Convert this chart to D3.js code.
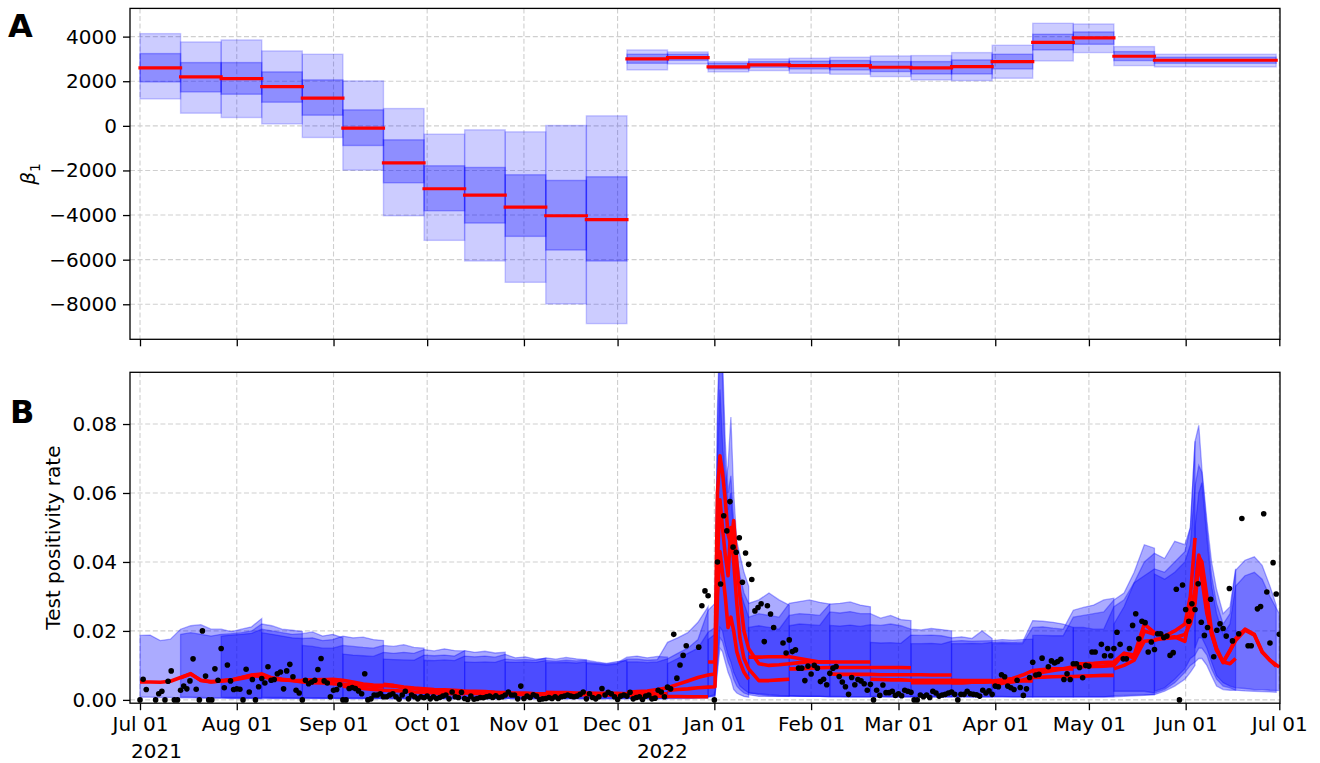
<!DOCTYPE html>
<html>
<head>
<meta charset="utf-8">
<script src="https://cdn.jsdelivr.net/npm/d3@7"></script>
<style>
  body { margin: 0; background: #fff; }
  svg text { font-family: "DejaVu Sans", sans-serif; }
</style>
</head>
<body>
<svg id="chart" width="1320" height="763"></svg>
<script>
// ---- data ----
var monthTicks = ["2021-07-01", "2021-08-01", "2021-09-01", "2021-10-01", "2021-11-01", "2021-12-01",
    "2022-01-01", "2022-02-01", "2022-03-01", "2022-04-01", "2022-05-01", "2022-06-01", "2022-07-01"];
var yearLabels = ["2021", "2022"];
var betaTicks = [-8000, -6000, -4000, -2000, 0, 2000, 4000];
var rateTicks = [0, 0.02, 0.04, 0.06, 0.08];

// panel A: beta_1 per 13-day block (days since 2021-07-01)
var betaDays = [0, 13, 26, 39, 52, 65, 78, 91, 104, 117, 130, 143, 156, 169, 182, 195, 208, 221, 234, 247, 260, 273, 286, 299, 312, 325, 364];
var betaMed  = [2597, 2194, 2119, 1761, 1239, -104, -1657, -2821, -3104, -3642, -4030, -4209, 3000, 3060, 2642, 2731, 2701, 2701, 2627, 2597, 2657, 2881, 3746, 3940, 3119, 2940];
var betaHi95 = [4134, 3761, 3851, 3358, 3209, 2015, 776, -373, -179, -269, 15, 448, 3403, 3313, 2881, 3000, 3030, 3075, 3134, 3149, 3284, 3612, 4597, 4567, 3552, 3209];
var betaHi50 = [3239, 2836, 2836, 2418, 2060, 716, -627, -1791, -1866, -2194, -2448, -2284, 3209, 3209, 2806, 2881, 2896, 2925, 2881, 2881, 2955, 3209, 4104, 4209, 3328, 3075];
var betaLo50 = [1970, 1522, 1418, 1060, 478, -881, -2552, -3806, -4358, -4955, -5567, -6060, 2806, 2940, 2552, 2627, 2552, 2507, 2433, 2328, 2328, 2552, 3403, 3657, 2925, 2806];
var betaLo95 = [1209, 567, 373, 90, -522, -1985, -4030, -5134, -6060, -7015, -7985, -8866, 2507, 2776, 2418, 2478, 2358, 2313, 2209, 2060, 2030, 2134, 2910, 3284, 2701, 2642];

// panel B: observed daily test positivity rate, day 0 = 2021-07-01
var positivity = [
  0, 0.006, 0.003, null, null, 0, 0.0018, 0.0025, 0, 0.0054, 0.0084, 0, 0, 0.0028, 0.004, 0.0032, 0.0055, 0.0119, 0.0031, 0,
  0.02, 0.0069, 0, 0, 0.009, 0.0057, 0.0149, 0.0035, 0.0101, 0.0055, 0.003, 0.0032, 0.0031, 0, 0.0089, 0.0023, 0.0059, 0, 0.0038, 0.0062,
  0.0049, 0.0096, 0.0057, 0.0059, 0.0076, 0.0081, 0.0032, 0.0084, 0.0103, 0.0067, 0.0028, 0.002, 0, 0.0057, 0.0047, 0.0052, 0.0057, 0.0088, 0.012, 0.0055,
  0.0049, 0.0009, 0.0028, 0.003, 0.0044, 0, 0, 0.0033, 0.0036, 0.0033, 0.0026, 0.0018, 0.0076, 0, 0.0003, 0.0014, 0.0014, 0.0018, 0.0009, 0.0009,
  0.0014, 0.0018, 0.0009, 0.0002, 0.0014, 0.0025, 0.0003, 0.0014, 0.0009, 0.0003, 0.0009, 0.0006, 0.0011, 0.0003, 0.0009, 0.0004, 0.0007, 0.0011, 0.0014, 0.0003,
  0.0023, 0.0009, 0.0007, 0.0022, 0.0004, 0.0001, 0.0011, 0.0002, 0.0004, 0.0007, 0.0006, 0.0009, 0.0011, 0.0007, 0.0012, 0.0007, 0.0009, 0.0014, 0.0023, 0.0014,
  0.0014, 0.0003, 0.004, 0.0004, 0.0011, 0.0007, 0.0015, 0.0011, 0.0001, 0.0003, 0.0004, 0.0007, 0.0004, 0.0009, 0.0004, 0.0009, 0.0011, 0.0014, 0.0011, 0.0009,
  0.0011, 0.0016, 0.0023, 0.0003, 0.0018, 0.0007, 0.0003, 0.0009, 0.0033, 0.0014, 0.0022, 0.0018, 0.0009, 0.0001, 0.0011, 0.0014, 0.0011, 0.0022, 0.0003, 0.0007,
  0.0009, 0.0001, 0.0011, 0.0014, 0.0003, 0.0005, 0.0028, 0.0023, 0.0009, 0.0037, 0.0032, 0.019, 0.0063, 0.0101, 0.0129, 0.0157, null, null, null, 0.0153,
  0.0273, 0.0316, 0.0302, null, 0, 0.04, 0.0336, 0.0534, 0.049, 0.0575, 0.0443, 0.0428, 0.047, 0.0341, 0.0426, 0.0393, 0.0349, 0.0258, 0.0268, 0.0279,
  0.0169, 0.0273, 0.0249, 0.021, null, null, 0.0165, 0.0136, 0.0174, 0.014, 0.0145, 0.0092, 0.0092, 0.0056, 0.0098, 0.0075, 0.01, 0.0092, 0.0053, 0.006,
  0.0044, 0.0077, 0.0092, 0.0097, 0.0068, 0.0052, 0.0038, 0.0016, 0.0065, 0.0044, 0.0059, 0.0055, 0.0047, 0.0028, 0.0045, 0, 0.0028, 0.0013, 0.0043, 0.0021,
  0.0021, 0.0025, 0.0013, 0.0018, 0.0012, 0.0028, 0.0025, 0.0022, 0, 0, 0.0014, 0.0009, 0.0014, 0.0007, 0.0025, 0.002, 0.0011, 0.0014, 0.0016, 0.002,
  0.0023, 0.0016, 0, 0.0016, 0.0016, 0.0025, 0.0018, 0.0016, 0.0015, 0.0011, 0.0028, 0.002, 0.0026, 0.0016, 0.004, 0.0038, 0.0073, 0.0067, 0.004, 0.0035,
  0.003, 0.0057, 0.0036, 0.0013, 0.0032, 0.0065, 0.0109, 0.0072, 0.0074, 0.0121, null, 0.0096, 0.0113, 0.0107, 0.0111, 0.0118, 0.0059, 0.0076, 0.0059, 0.0105,
  0.0105, 0.0094, 0.0064, 0.01, 0.0098, 0.0139, 0.0139, null, 0.0161, 0.0128, 0.0149, 0.0128, 0.0149, 0.0196, 0.0161, 0.0119, 0.0119, 0.0149, 0.0216, 0.025,
  0.0177, 0.0228, 0.0224, 0.0139, 0.0168, 0.0146, 0.0192, 0.0192, 0.0181, 0.0185, 0.0129, 0.0137, 0.0321, 0, 0.0333, 0.0262, 0.0228, 0.0279, 0.0262, 0.0337,
  0.0225, 0.0187, 0.021, 0.0292, 0.0125, 0.0202, 0.0221, 0.0207, 0.0185, 0.0323, 0.0171, null, 0.0192, 0.0526, null, 0.0157, 0.0157, null, 0.0264, 0.0271,
  0.054, 0.0313, 0.0165, 0.0398, 0.0307, 0.019
];

// panel B: 27 rolling forecasts, each 39 days long, starting every 13 days
var fcStart = [0, 13, 26, 39, 52, 65, 78, 91, 104, 117, 130, 143, 156, 169, 182, 195, 208, 221, 234, 247, 260, 273, 286, 299, 312, 325, 338];
var stdOffsets = [0, 3.25, 6.5, 9.75, 13, 16.25, 19.5, 22.75, 26, 29.25, 32.5, 35.75, 39];
var spikeLate  = [0, 3.25, 6.5, 9.75, 13, 16.25, 19.5, 22.75, 26, 28.2, 29, 29.8, 30.6, 31.5, 32.4, 33.3, 34.2, 35.2, 36.2, 37.5, 39];
var spikeMid   = [0, 3.25, 6.5, 9.75, 13, 15.2, 16, 16.8, 17.6, 18.5, 19.4, 20.3, 21.2, 22.2, 23.2, 24.5, 26, 29.25, 32.5, 35.75, 39];
var spikeEarly = [0, 2.2, 3, 3.8, 4.6, 5.5, 6.4, 7.3, 8.2, 9.2, 10.2, 11.5, 13, 16.25, 19.5, 22.75, 26, 29.25, 32.5, 35.75, 39];
var peakLate   = [0, 3.25, 6.5, 9.75, 13, 16.25, 19.5, 22.75, 26, 29.25, 32.5, 35.75, 37.5, 39];
var peakMid    = [0, 3.25, 6.5, 9.75, 13, 16.25, 19.5, 22.75, 24.5, 26, 27.2, 28.2, 29.8, 31.3, 32.9, 35, 37.2, 39];
var peakEarly  = [0, 3.25, 6.5, 9.75, 11.5, 13, 14.2, 15.2, 16.8, 18.3, 19.9, 22, 24.2, 26, 29, 32, 34.5, 37, 39];
var peakLast   = [0, 1.2, 2.2, 3.8, 5.3, 6.9, 9, 11.2, 13, 16, 19, 21.5, 24, 27];
var fcOffsets = [stdOffsets, stdOffsets, stdOffsets, stdOffsets, stdOffsets, stdOffsets, stdOffsets, stdOffsets, stdOffsets,
    stdOffsets, stdOffsets, stdOffsets, spikeLate, spikeMid, spikeEarly, stdOffsets, stdOffsets, stdOffsets, stdOffsets,
    stdOffsets, stdOffsets, stdOffsets, stdOffsets, peakLate, peakMid, peakEarly, peakLast];

var fcHi = [
  [0.0187, 0.0188, 0.0172, 0.0176, 0.0205, 0.0215, 0.0218, 0.0205, 0.0205, 0.0198, 0.0205, 0.0212, 0.0236],
  [0.0190, 0.0195, 0.0190, 0.0185, 0.0190, 0.0192, 0.0195, 0.0200, 0.0220, 0.0215, 0.0205, 0.0202, 0.0198],
  [0.0185, 0.0188, 0.0190, 0.0193, 0.0205, 0.0200, 0.0195, 0.0190, 0.0192, 0.0197, 0.0185, 0.0190, 0.0180],
  [0.0195, 0.0190, 0.0185, 0.0180, 0.0178, 0.0180, 0.0172, 0.0175, 0.0185, 0.0180, 0.0182, 0.0175, 0.0172],
  [0.0158, 0.0155, 0.0150, 0.0150, 0.0158, 0.0155, 0.0152, 0.0150, 0.0158, 0.0155, 0.0160, 0.0152, 0.0150],
  [0.0133, 0.0130, 0.0128, 0.0126, 0.0138, 0.0135, 0.0138, 0.0135, 0.0146, 0.0142, 0.0148, 0.0143, 0.0142],
  [0.0118, 0.0117, 0.0116, 0.0115, 0.0130, 0.0128, 0.0130, 0.0127, 0.0143, 0.0138, 0.0141, 0.0136, 0.0138],
  [0.0115, 0.0114, 0.0116, 0.0114, 0.0127, 0.0125, 0.0127, 0.0124, 0.0132, 0.0122, 0.0125, 0.0118, 0.0120],
  [0.0110, 0.0109, 0.0110, 0.0109, 0.0118, 0.0116, 0.0117, 0.0115, 0.0122, 0.0118, 0.0123, 0.0119, 0.0116],
  [0.0110, 0.0109, 0.0110, 0.0109, 0.0114, 0.0112, 0.0115, 0.0113, 0.0115, 0.0110, 0.0106, 0.0111, 0.0114],
  [0.0108, 0.0108, 0.0109, 0.0107, 0.0110, 0.0107, 0.0104, 0.0107, 0.0124, 0.0127, 0.0122, 0.0126, 0.0124],
  [0.0106, 0.0104, 0.0101, 0.0104, 0.0118, 0.0118, 0.0115, 0.0117, 0.0167, 0.0180, 0.0195, 0.0225, 0.0270],
  [0.0110, 0.0110, 0.0108, 0.0110, 0.0119, 0.0135, 0.0150, 0.0175, 0.0260, 0.0280, 0.0700, 0.0900, 0.0750, 0.0620, 0.0680, 0.0820, 0.0600, 0.0460, 0.0420, 0.0370, 0.0330],
  [0.0105, 0.0120, 0.0135, 0.0150, 0.0196, 0.0210, 0.0850, 0.1100, 0.1000, 0.0750, 0.0600, 0.0650, 0.0520, 0.0420, 0.0360, 0.0310, 0.0280, 0.0290, 0.0310, 0.0290, 0.0275],
  [0.0175, 0.0190, 0.0800, 0.1050, 0.0950, 0.0680, 0.0550, 0.0600, 0.0480, 0.0380, 0.0320, 0.0280, 0.0240, 0.0250, 0.0245, 0.0240, 0.0280, 0.0285, 0.0290, 0.0283, 0.0278],
  [0.0210, 0.0215, 0.0210, 0.0205, 0.0245, 0.0250, 0.0248, 0.0245, 0.0278, 0.0280, 0.0284, 0.0275, 0.0270],
  [0.0215, 0.0220, 0.0218, 0.0216, 0.0255, 0.0252, 0.0256, 0.0250, 0.0250, 0.0237, 0.0245, 0.0233, 0.0230],
  [0.0216, 0.0214, 0.0217, 0.0213, 0.0218, 0.0216, 0.0220, 0.0215, 0.0205, 0.0203, 0.0207, 0.0204, 0.0200],
  [0.0167, 0.0165, 0.0166, 0.0164, 0.0188, 0.0187, 0.0188, 0.0186, 0.0180, 0.0183, 0.0178, 0.0200, 0.0178],
  [0.0163, 0.0163, 0.0164, 0.0162, 0.0170, 0.0172, 0.0170, 0.0171, 0.0172, 0.0175, 0.0173, 0.0175, 0.0176],
  [0.0163, 0.0163, 0.0164, 0.0163, 0.0167, 0.0168, 0.0167, 0.0168, 0.0230, 0.0228, 0.0225, 0.0220, 0.0210],
  [0.0163, 0.0164, 0.0163, 0.0163, 0.0210, 0.0212, 0.0208, 0.0205, 0.0260, 0.0268, 0.0275, 0.0290, 0.0295],
  [0.0187, 0.0187, 0.0186, 0.0186, 0.0240, 0.0245, 0.0250, 0.0255, 0.0290, 0.0310, 0.0370, 0.0450, 0.0440],
  [0.0210, 0.0210, 0.0205, 0.0205, 0.0270, 0.0290, 0.0340, 0.0400, 0.0425, 0.0410, 0.0460, 0.0450, 0.0500, 0.0750],
  [0.0220, 0.0270, 0.0340, 0.0360, 0.0380, 0.0370, 0.0400, 0.0430, 0.0500, 0.0750, 0.0796, 0.0670, 0.0520, 0.0400, 0.0320, 0.0250, 0.0270, 0.0380],
  [0.0365, 0.0350, 0.0370, 0.0400, 0.0450, 0.0620, 0.0680, 0.0660, 0.0500, 0.0360, 0.0280, 0.0220, 0.0250, 0.0376, 0.0405, 0.0415, 0.0390, 0.0330, 0.0275],
  [0.0500, 0.0600, 0.0630, 0.0470, 0.0330, 0.0250, 0.0190, 0.0220, 0.0330, 0.0360, 0.0370, 0.0350, 0.0300, 0.0250]
];

var fcLo = [
  [0.0008, 0.0008, 0.0007, 0.0007, 0.0006, 0.0006, 0.0005, 0.0005, 0.0005, 0.0004, 0.0004, 0.0004, 0.0004],
  [0.0008, 0.0008, 0.0007, 0.0006, 0.0006, 0.0005, 0.0005, 0.0005, 0.0004, 0.0004, 0.0004, 0.0004, 0.0004],
  [0.0008, 0.0007, 0.0007, 0.0006, 0.0006, 0.0005, 0.0005, 0.0005, 0.0004, 0.0004, 0.0004, 0.0004, 0.0004],
  [0.0008, 0.0007, 0.0007, 0.0006, 0.0006, 0.0005, 0.0005, 0.0005, 0.0004, 0.0004, 0.0004, 0.0004, 0.0004],
  [0.0006, 0.0006, 0.0005, 0.0005, 0.0005, 0.0004, 0.0004, 0.0004, 0.0004, 0.0003, 0.0003, 0.0003, 0.0003],
  [0.0006, 0.0006, 0.0005, 0.0005, 0.0005, 0.0004, 0.0004, 0.0004, 0.0004, 0.0003, 0.0003, 0.0003, 0.0003],
  [0.0006, 0.0006, 0.0005, 0.0005, 0.0005, 0.0004, 0.0004, 0.0004, 0.0004, 0.0003, 0.0003, 0.0003, 0.0003],
  [0.0006, 0.0006, 0.0005, 0.0005, 0.0005, 0.0004, 0.0004, 0.0004, 0.0004, 0.0003, 0.0003, 0.0003, 0.0003],
  [0.0006, 0.0006, 0.0005, 0.0005, 0.0005, 0.0004, 0.0004, 0.0004, 0.0004, 0.0003, 0.0003, 0.0003, 0.0003],
  [0.0006, 0.0006, 0.0005, 0.0005, 0.0005, 0.0004, 0.0004, 0.0004, 0.0004, 0.0003, 0.0003, 0.0003, 0.0003],
  [0.0006, 0.0006, 0.0005, 0.0005, 0.0005, 0.0004, 0.0004, 0.0004, 0.0004, 0.0003, 0.0003, 0.0003, 0.0003],
  [0.0006, 0.0006, 0.0005, 0.0005, 0.0005, 0.0004, 0.0004, 0.0004, 0.0004, 0.0004, 0.0004, 0.0005, 0.0005],
  [0.0005, 0.0005, 0.0005, 0.0005, 0.0005, 0.0005, 0.0006, 0.0007, 0.0008, 0.0010, 0.0080, 0.0150, 0.0140, 0.0110, 0.0080, 0.0060, 0.0030, 0.0020, 0.0015, 0.0010, 0.0008],
  [0.0008, 0.0008, 0.0008, 0.0008, 0.0009, 0.0012, 0.0100, 0.0180, 0.0170, 0.0140, 0.0110, 0.0090, 0.0060, 0.0040, 0.0030, 0.0020, 0.0015, 0.0010, 0.0010, 0.0010, 0.0010],
  [0.0010, 0.0015, 0.0120, 0.0210, 0.0200, 0.0160, 0.0130, 0.0110, 0.0080, 0.0060, 0.0040, 0.0030, 0.0020, 0.0015, 0.0012, 0.0010, 0.0010, 0.0010, 0.0010, 0.0010, 0.0010],
  [0.0020, 0.0018, 0.0015, 0.0013, 0.0012, 0.0010, 0.0010, 0.0010, 0.0009, 0.0009, 0.0009, 0.0009, 0.0009],
  [0.0012, 0.0011, 0.0010, 0.0010, 0.0009, 0.0009, 0.0009, 0.0009, 0.0009, 0.0009, 0.0009, 0.0009, 0.0009],
  [0.0010, 0.0010, 0.0009, 0.0009, 0.0009, 0.0009, 0.0009, 0.0009, 0.0009, 0.0009, 0.0009, 0.0009, 0.0009],
  [0.0010, 0.0010, 0.0009, 0.0009, 0.0009, 0.0009, 0.0009, 0.0009, 0.0009, 0.0009, 0.0009, 0.0009, 0.0009],
  [0.0010, 0.0010, 0.0009, 0.0009, 0.0009, 0.0009, 0.0009, 0.0009, 0.0009, 0.0009, 0.0009, 0.0009, 0.0009],
  [0.0010, 0.0010, 0.0009, 0.0009, 0.0009, 0.0009, 0.0009, 0.0009, 0.0009, 0.0009, 0.0009, 0.0009, 0.0009],
  [0.0010, 0.0010, 0.0009, 0.0009, 0.0009, 0.0009, 0.0009, 0.0009, 0.0009, 0.0009, 0.0009, 0.0009, 0.0009],
  [0.0009, 0.0009, 0.0009, 0.0009, 0.0009, 0.0009, 0.0009, 0.0009, 0.0009, 0.0010, 0.0012, 0.0013, 0.0015],
  [0.0009, 0.0009, 0.0009, 0.0009, 0.0012, 0.0013, 0.0014, 0.0015, 0.0015, 0.0025, 0.0040, 0.0060, 0.0080, 0.0100],
  [0.0025, 0.0025, 0.0025, 0.0025, 0.0020, 0.0030, 0.0050, 0.0080, 0.0100, 0.0110, 0.0120, 0.0120, 0.0100, 0.0070, 0.0040, 0.0030, 0.0028, 0.0028],
  [0.0025, 0.0035, 0.0060, 0.0090, 0.0120, 0.0130, 0.0150, 0.0150, 0.0130, 0.0090, 0.0060, 0.0040, 0.0035, 0.0028, 0.0026, 0.0025, 0.0024, 0.0023, 0.0022],
  [0.0150, 0.0180, 0.0180, 0.0150, 0.0110, 0.0070, 0.0050, 0.0040, 0.0035, 0.0033, 0.0030, 0.0030, 0.0028, 0.0027]
];

var fcMed = [
  [0.0052, 0.0052, 0.0051, 0.0054, 0.0065, 0.0076, 0.0056, 0.0052, 0.0055, 0.0058, 0.0064, 0.0071, 0.0068],
  [0.0064, 0.0075, 0.0057, 0.0053, 0.0055, 0.0057, 0.0062, 0.0068, 0.0074, 0.0062, 0.0059, 0.0056, 0.0054],
  [0.0056, 0.0058, 0.0065, 0.0072, 0.0075, 0.0064, 0.0060, 0.0057, 0.0056, 0.0058, 0.0059, 0.0057, 0.0055],
  [0.0068, 0.0061, 0.0058, 0.0056, 0.0052, 0.0050, 0.0049, 0.0047, 0.0045, 0.0043, 0.0042, 0.0040, 0.0038],
  [0.0058, 0.0057, 0.0058, 0.0060, 0.0057, 0.0052, 0.0046, 0.0043, 0.0042, 0.0040, 0.0035, 0.0033, 0.0030],
  [0.0040, 0.0036, 0.0033, 0.0030, 0.0028, 0.0027, 0.0025, 0.0023, 0.0022, 0.0020, 0.0019, 0.0018, 0.0018],
  [0.0045, 0.0042, 0.0037, 0.0034, 0.0032, 0.0030, 0.0029, 0.0028, 0.0026, 0.0025, 0.0024, 0.0022, 0.0021],
  [0.0026, 0.0025, 0.0023, 0.0021, 0.0020, 0.0019, 0.0018, 0.0017, 0.0016, 0.0016, 0.0015, 0.0015, 0.0014],
  [0.0024, 0.0023, 0.0022, 0.0021, 0.0020, 0.0019, 0.0019, 0.0018, 0.0018, 0.0017, 0.0017, 0.0016, 0.0016],
  [0.0020, 0.0019, 0.0019, 0.0018, 0.0017, 0.0017, 0.0016, 0.0016, 0.0015, 0.0015, 0.0014, 0.0014, 0.0014],
  [0.0022, 0.0021, 0.0021, 0.0020, 0.0020, 0.0019, 0.0019, 0.0019, 0.0018, 0.0018, 0.0018, 0.0018, 0.0018],
  [0.0018, 0.0017, 0.0016, 0.0015, 0.0014, 0.0013, 0.0012, 0.0011, 0.0010, 0.0010, 0.0009, 0.0009, 0.0009],
  [0.0022, 0.0024, 0.0026, 0.0030, 0.0035, 0.0045, 0.0055, 0.0065, 0.0072, 0.0075, 0.0300, 0.0430, 0.0370, 0.0300, 0.0210, 0.0240, 0.0200, 0.0140, 0.0110, 0.0080, 0.0060],
  [0.0027, 0.0030, 0.0032, 0.0035, 0.0037, 0.0038, 0.0400, 0.0580, 0.0500, 0.0420, 0.0360, 0.0500, 0.0400, 0.0280, 0.0180, 0.0120, 0.0090, 0.0056, 0.0056, 0.0058, 0.0060],
  [0.0110, 0.0110, 0.0600, 0.0708, 0.0660, 0.0580, 0.0480, 0.0450, 0.0520, 0.0400, 0.0300, 0.0200, 0.0148, 0.0105, 0.0100, 0.0102, 0.0105, 0.0108, 0.0110, 0.0110, 0.0110],
  [0.0124, 0.0124, 0.0125, 0.0125, 0.0125, 0.0120, 0.0115, 0.0110, 0.0110, 0.0110, 0.0110, 0.0110, 0.0110],
  [0.0090, 0.0090, 0.0092, 0.0093, 0.0094, 0.0094, 0.0094, 0.0094, 0.0094, 0.0094, 0.0094, 0.0094, 0.0093],
  [0.0075, 0.0074, 0.0074, 0.0074, 0.0074, 0.0073, 0.0073, 0.0073, 0.0073, 0.0073, 0.0072, 0.0072, 0.0072],
  [0.0060, 0.0059, 0.0058, 0.0058, 0.0057, 0.0057, 0.0057, 0.0057, 0.0057, 0.0056, 0.0056, 0.0056, 0.0056],
  [0.0050, 0.0050, 0.0050, 0.0050, 0.0050, 0.0050, 0.0051, 0.0051, 0.0052, 0.0053, 0.0054, 0.0055, 0.0055],
  [0.0050, 0.0050, 0.0051, 0.0052, 0.0055, 0.0058, 0.0062, 0.0072, 0.0085, 0.0088, 0.0090, 0.0090, 0.0090],
  [0.0045, 0.0048, 0.0052, 0.0058, 0.0065, 0.0066, 0.0067, 0.0068, 0.0068, 0.0069, 0.0070, 0.0071, 0.0071],
  [0.0075, 0.0080, 0.0085, 0.0090, 0.0096, 0.0096, 0.0097, 0.0098, 0.0100, 0.0135, 0.0120, 0.0200, 0.0190],
  [0.0105, 0.0105, 0.0106, 0.0108, 0.0110, 0.0135, 0.0130, 0.0220, 0.0195, 0.0185, 0.0200, 0.0220, 0.0300, 0.0470],
  [0.0090, 0.0100, 0.0115, 0.0170, 0.0173, 0.0180, 0.0183, 0.0170, 0.0250, 0.0320, 0.0415, 0.0400, 0.0300, 0.0200, 0.0150, 0.0110, 0.0105, 0.0120],
  [0.0175, 0.0178, 0.0180, 0.0190, 0.0220, 0.0280, 0.0400, 0.0350, 0.0250, 0.0195, 0.0144, 0.0110, 0.0144, 0.0178, 0.0205, 0.0190, 0.0140, 0.0115, 0.0098],
  [0.0300, 0.0420, 0.0380, 0.0260, 0.0190, 0.0145, 0.0108, 0.0142, 0.0172, 0.0202, 0.0188, 0.0138, 0.0115, 0.0095]
];

// ---- layout ----
var svg = d3.select("#chart");
var left = 130, right = 1280;
var topA = 8.4, bottomA = 339.3;
var topB = 372.3, bottomB = 703.2;

var t0 = Date.UTC(2021, 6, 1);
function dayDate(d) { return new Date(t0 + d * 864e5); }

var x = d3.scaleUtc().domain([dayDate(-3.204), dayDate(365.22)]).range([left, right]);
var yA = d3.scaleLinear().domain([-9570, 5265]).range([bottomA, topA]);
var yB = d3.scaleLinear().domain([-0.00096, 0.095]).range([bottomB, topB]);
var tickDates = monthTicks.map(function (s) { return new Date(s + "T00:00:00Z"); });

function drawGrid(g, y, ticks, top, bottom) {
    var grid = g.append("g").attr("stroke", "#cfcfcf").attr("stroke-width", 1.1)
        .attr("stroke-dasharray", "5,2.6");
    tickDates.forEach(function (d) {
        grid.append("line").attr("x1", x(d)).attr("x2", x(d)).attr("y1", top).attr("y2", bottom);
    });
    ticks.forEach(function (v) {
        grid.append("line").attr("x1", left).attr("x2", right).attr("y1", y(v)).attr("y2", y(v));
    });
}

function styleAxis(g) {
    g.select(".domain").remove();
    g.selectAll(".tick line").attr("stroke", "#000").attr("stroke-width", 1.3);
    g.selectAll(".tick text").attr("fill", "#000").style("font-size", "20px")
        .style("font-family", "DejaVu Sans, sans-serif");
}

// ---- panel A ----
var gA = svg.append("g");
drawGrid(gA, yA, betaTicks, topA, bottomA);

for (var i = 0; i < betaMed.length; i++) {
    var xa = x(dayDate(betaDays[i])), xb = x(dayDate(betaDays[i + 1]));
    gA.append("rect").attr("x", xa).attr("width", xb - xa)
        .attr("y", yA(betaHi95[i])).attr("height", yA(betaLo95[i]) - yA(betaHi95[i]))
        .attr("fill", "blue").attr("fill-opacity", 0.2)
        .attr("stroke", "blue").attr("stroke-opacity", 0.2).attr("stroke-width", 1.4);
    gA.append("rect").attr("x", xa).attr("width", xb - xa)
        .attr("y", yA(betaHi50[i])).attr("height", yA(betaLo50[i]) - yA(betaHi50[i]))
        .attr("fill", "blue").attr("fill-opacity", 0.3)
        .attr("stroke", "blue").attr("stroke-opacity", 0.3).attr("stroke-width", 1.4);
}
for (var j = 0; j < betaMed.length; j++) {
    gA.append("line")
        .attr("x1", x(dayDate(betaDays[j]))).attr("x2", x(dayDate(betaDays[j + 1])))
        .attr("y1", yA(betaMed[j])).attr("y2", yA(betaMed[j]))
        .attr("stroke", "red").attr("stroke-width", 3.2).attr("stroke-linecap", "square");
}

gA.append("g").attr("transform", "translate(" + left + ",0)")
    .call(d3.axisLeft(yA).tickValues(betaTicks).tickSize(7).tickPadding(6).tickFormat(d3.format("d")))
    .call(styleAxis);
gA.append("g").attr("transform", "translate(0," + bottomA + ")")
    .call(d3.axisBottom(x).tickValues(tickDates).tickSize(7).tickFormat(""))
    .call(styleAxis);
gA.append("rect").attr("x", left).attr("y", topA).attr("width", right - left).attr("height", bottomA - topA)
    .attr("fill", "none").attr("stroke", "#000").attr("stroke-width", 1.3);

var betaLabel = gA.append("text").attr("transform", "translate(35,174) rotate(-90)")
    .attr("text-anchor", "middle").style("font-size", "20px");
betaLabel.append("tspan").style("font-style", "italic").text("β");
betaLabel.append("tspan").attr("dy", 5).style("font-size", "14px").text("1");

svg.append("text").attr("x", 8).attr("y", 36.7).style("font-size", "32px").style("font-weight", "bold").text("A");

// ---- panel B ----
var gB = svg.append("g");
drawGrid(gB, yB, rateTicks, topB, bottomB);

svg.append("clipPath").attr("id", "clipB").append("rect")
    .attr("x", left).attr("y", topB).attr("width", right - left).attr("height", bottomB - topB);
var plotB = gB.append("g").attr("clip-path", "url(#clipB)");

var forecasts = fcStart.map(function (s, k) {
    var n = Math.min(fcOffsets[k].length, fcHi[k].length, fcLo[k].length, fcMed[k].length);
    if (n !== fcOffsets[k].length) console.warn("forecast " + k + " length mismatch");
    return d3.range(n).map(function (i) {
        return { day: s + fcOffsets[k][i], lo: fcLo[k][i], hi: fcHi[k][i], med: fcMed[k][i] };
    });
});

var band = d3.area()
    .x(function (d) { return x(dayDate(d.day)); })
    .y0(function (d) { return yB(d.lo); })
    .y1(function (d) { return yB(d.hi); });
var medLine = d3.line()
    .x(function (d) { return x(dayDate(d.day)); })
    .y(function (d) { return yB(d.med); });

plotB.selectAll("path.band").data(forecasts).enter().append("path")
    .attr("class", "band").attr("d", band)
    .attr("fill", "blue").attr("fill-opacity", 0.33)
    .attr("stroke", "blue").attr("stroke-opacity", 0.33).attr("stroke-width", 1.3);

plotB.selectAll("path.median").data(forecasts).enter().append("path")
    .attr("class", "median").attr("d", medLine)
    .attr("fill", "none").attr("stroke", "red").attr("stroke-width", 3.6)
    .attr("stroke-linejoin", "round");

var obs = positivity.map(function (v, d) { return { day: d, v: v }; })
    .filter(function (d) { return d.v !== null; });
plotB.selectAll("circle").data(obs).enter().append("circle")
    .attr("cx", function (d) { return x(dayDate(d.day)); })
    .attr("cy", function (d) { return yB(d.v); })
    .attr("r", 2.8).attr("fill", "#000");

gB.append("g").attr("transform", "translate(" + left + ",0)")
    .call(d3.axisLeft(yB).tickValues(rateTicks).tickSize(7).tickPadding(6).tickFormat(d3.format(".2f")))
    .call(styleAxis);
gB.append("g").attr("transform", "translate(0," + bottomB + ")")
    .call(d3.axisBottom(x).tickValues(tickDates).tickSize(7).tickPadding(7).tickFormat(d3.utcFormat("%b %d")))
    .call(styleAxis);
gB.append("rect").attr("x", left).attr("y", topB).attr("width", right - left).attr("height", bottomB - topB)
    .attr("fill", "none").attr("stroke", "#000").attr("stroke-width", 1.3);

// year line under the first tick of each year
gB.append("text").attr("x", x(tickDates[0]) + 16.5).attr("y", 757.5).attr("text-anchor", "middle")
    .style("font-size", "20px").text(yearLabels[0]);
gB.append("text").attr("x", x(tickDates[6]) - 52).attr("y", 757.5).attr("text-anchor", "middle")
    .style("font-size", "20px").text(yearLabels[1]);

gB.append("text").attr("transform", "translate(59.5,537.6) rotate(-90)")
    .attr("text-anchor", "middle").style("font-size", "20px").text("Test positivity rate");

svg.append("text").attr("x", 10).attr("y", 423.3).style("font-size", "32px").style("font-weight", "bold").text("B");
</script>
</body>
</html>
